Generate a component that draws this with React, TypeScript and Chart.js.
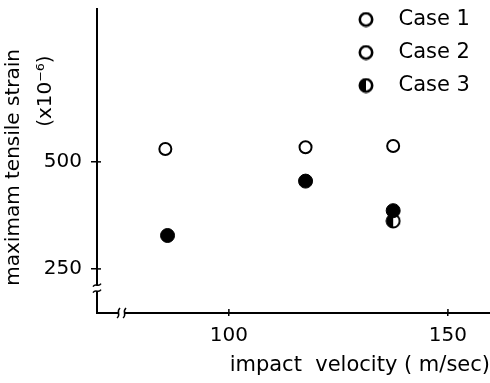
import React, { useEffect, useRef } from "react";
import { Chart, registerables } from "chart.js";

Chart.register(...registerables);

// ---- data ----
const caseLabels = ["Case 1", "Case 2", "Case 3"];
const case1X = [85.5, 117.5, 137.5];
const case1Y = [530, 534, 537];
const case2X = [86, 117.5, 137.5];
const case2Y = [328, 455, 386];
const case3X = [137.5];
const case3Y = [362];
const xTicks = [100, 150];
const yTicks = [250, 500];
const xRange = [69.9, 159.6];
const yRange = [147, 857];
const xBreak = 75.5;
const yBreak = 205;
const xTitle = "impact  velocity ( m/sec)";
const yTitle = "maximam tensile strain  ";
const yUnit = "(x10\u207B\u2076)";

const FONT = "'DejaVu Sans', sans-serif";

function makeMarker(kind: "open" | "half" | "full", size: number, lw: number) {
  const c = document.createElement("canvas");
  c.width = size;
  c.height = size;
  const g = c.getContext("2d")!;
  const cx = size / 2;
  const r = size / 2 - lw / 2 - 0.5;
  g.beginPath();
  g.arc(cx, cx, r, 0, Math.PI * 2);
  g.fillStyle = kind === "full" ? "#000" : "#fff";
  g.fill();
  if (kind === "half") {
    g.beginPath();
    g.arc(cx, cx, r, Math.PI / 2, Math.PI * 1.5);
    g.closePath();
    g.fillStyle = "#000";
    g.fill();
  }
  g.beginPath();
  g.arc(cx, cx, r, 0, Math.PI * 2);
  g.lineWidth = lw;
  g.strokeStyle = "#000";
  g.stroke();
  return c;
}

export default function App() {
  const ref = useRef<HTMLCanvasElement | null>(null);

  useEffect(() => {
    const canvas = ref.current;
    if (!canvas) return;
    const halfPoint = makeMarker("half", 16, 2);
    const legOpen = makeMarker("open", 16, 2.6);
    const legHalf = makeMarker("half", 16, 2.6);

    const axisDecor = {
      id: "axisDecor",
      afterLayout(chart: any) {
        const lg = chart.legend;
        if (lg) {
          const w = lg.width, h = lg.height;
          lg.left = 332;
          lg.right = lg.left + w;
          lg.top = -3;
          lg.bottom = lg.top + h;
        }
      },
      afterDraw(chart: any) {
        const { ctx } = chart;
        const x = chart.scales.x;
        const y = chart.scales.y;
        const ax = x.left;
        const ay = y.bottom;
        ctx.save();
        ctx.strokeStyle = "#000";
        ctx.lineWidth = 1.5;
        yTicks.forEach((v) => {
          const py = y.getPixelForValue(v);
          ctx.beginPath();
          ctx.moveTo(ax, py);
          ctx.lineTo(ax + 4, py);
          ctx.stroke();
        });
        xTicks.forEach((v) => {
          const px = x.getPixelForValue(v);
          ctx.beginPath();
          ctx.moveTo(px, ay);
          ctx.lineTo(px, ay - 4);
          ctx.stroke();
        });
        // y-axis break
        const by = y.getPixelForValue(yBreak);
        ctx.fillStyle = "#fff";
        ctx.fillRect(ax - 2, by - 3, 4, 6);
        for (const d of [-3, 3]) {
          ctx.beginPath();
          ctx.moveTo(ax - 4, by + d + 1.5);
          ctx.bezierCurveTo(ax - 1, by + d - 3, ax + 1, by + d + 3, ax + 4, by + d - 1.5);
          ctx.stroke();
        }
        // x-axis break
        const bx = x.getPixelForValue(xBreak);
        ctx.fillRect(bx - 3, ay - 2, 6, 4);
        for (const d of [-3, 3]) {
          ctx.beginPath();
          ctx.moveTo(bx + d - 1.5, ay + 5);
          ctx.bezierCurveTo(bx + d + 3, ay + 1, bx + d - 3, ay - 1, bx + d + 1.5, ay - 5);
          ctx.stroke();
        }
        ctx.restore();
      },
    };

    const chart = new Chart(canvas, {
      type: "scatter",
      data: {
        datasets: [
          {
            label: caseLabels[0],
            data: case1X.map((v, i) => ({ x: v, y: case1Y[i] })),
            pointStyle: "circle",
            pointRadius: 6,
            pointBorderWidth: 2,
            backgroundColor: "#fff",
            borderColor: "#000",
            order: 1,
          },
          {
            label: caseLabels[1],
            data: case2X.map((v, i) => ({ x: v, y: case2Y[i] })),
            pointStyle: "circle",
            pointRadius: 7,
            pointBorderWidth: 1,
            backgroundColor: "#000",
            borderColor: "#000",
            order: 0,
          },
          {
            label: caseLabels[2],
            data: case3X.map((v, i) => ({ x: v, y: case3Y[i] })),
            pointStyle: halfPoint as any,
            backgroundColor: "#fff",
            borderColor: "#000",
            order: 2,
          },
        ],
      },
      options: {
        responsive: false,
        animation: false,
        devicePixelRatio: 1,
        layout: { autoPadding: false, padding: { top: 9, left: 0, right: 0, bottom: 0 } },
        font: { family: FONT } as any,
        plugins: {
          tooltip: { enabled: false },
          legend: {
            position: "chartArea" as any,
            fullSize: false,
            align: "start",
            labels: {
              usePointStyle: true,
              pointStyleWidth: 44,
              boxHeight: 16,
              padding: 12,
              color: "#000",
              font: { family: FONT, size: 21 },
              generateLabels: () =>
                caseLabels.map((t, i) => ({
                  text: t,
                  pointStyle: (i === 2 ? legHalf : legOpen) as any,
                  fillStyle: "#fff",
                  strokeStyle: "#000",
                  lineWidth: 2,
                  hidden: false,
                  datasetIndex: i,
                  fontColor: "#000",
                })),
            },
          },
        },
        scales: {
          x: {
            type: "linear",
            min: xRange[0],
            max: xRange[1],
            afterBuildTicks: (s: any) => {
              s.ticks = xTicks.map((v) => ({ value: v }));
            },
            afterFit: (s: any) => {
              s.height = 70;
              s.paddingLeft = 0;
              s.paddingRight = 0;
            },
            grid: { display: true, drawOnChartArea: false, drawTicks: true, tickLength: 3, color: "#000", lineWidth: 1.5 },
            border: { display: true, color: "#000", width: 2 },
            ticks: { color: "#000", padding: 8, font: { family: FONT, size: 20 }, maxRotation: 0 },
            title: {
              display: true,
              text: xTitle,
              align: "end",
              color: "#000",
              font: { family: FONT, size: 21 },
              padding: { top: 0, bottom: 5 },
            },
          },
          y: {
            type: "linear",
            min: yRange[0],
            max: yRange[1],
            afterBuildTicks: (s: any) => {
              s.ticks = yTicks.map((v) => ({ value: v }));
            },
            afterFit: (s: any) => {
              s.width = 97;
              s.paddingTop = 0;
              s.paddingBottom = 0;
            },
            grid: { display: true, drawOnChartArea: false, drawTicks: true, tickLength: 6, color: "#000", lineWidth: 1.5 },
            border: { display: true, color: "#000", width: 2 },
            ticks: { color: "#000", padding: 9, font: { family: FONT, size: 20 } },
            title: {
              display: true,
              text: [yTitle, " ".repeat(22) + yUnit],
              color: "#000",
              font: { family: FONT, size: 20, lineHeight: 1.6 },
              padding: { top: -2, bottom: 0 },
            },
          },
        },
      },
      plugins: [axisDecor as any],
    });
    return () => chart.destroy();
  }, []);

  return (
    <div style={{ position: "absolute", left: 0, top: 0, width: 490, height: 383, background: "#fff" }}>
      <canvas ref={ref} width={490} height={383} style={{ display: "block" }} />
    </div>
  );
}
